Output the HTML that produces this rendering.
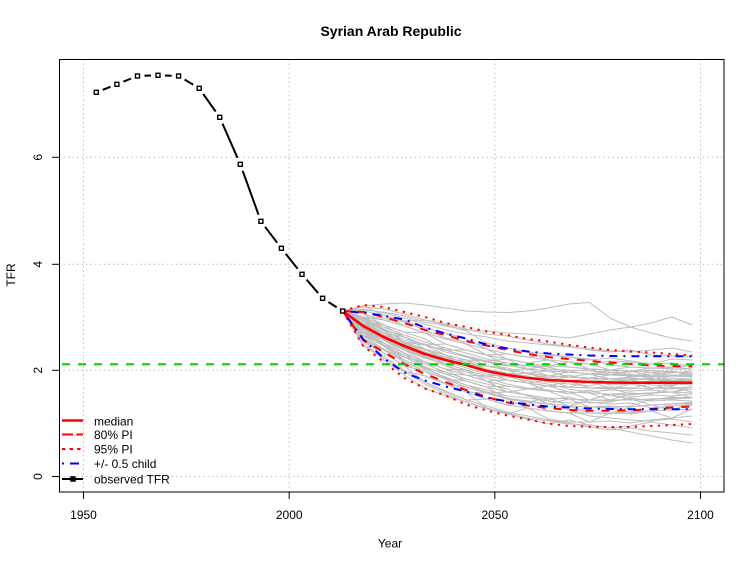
<!DOCTYPE html>
<html>
<head>
<meta charset="utf-8">
<style>
  html,body{margin:0;padding:0;background:#fff;}
  svg{display:block;}
  text{font-family:"Liberation Sans", Arial, sans-serif; fill:#000;}
  #traj polyline{vector-effect:non-scaling-stroke;}
</style>
</head>
<body>
<svg width="755" height="566" viewBox="0 0 755 566">
  <rect x="0" y="0" width="755" height="566" fill="#fff"/>
  <defs>
    <clipPath id="plotclip"><rect x="59" y="59" width="665" height="433"/></clipPath>
    <mask id="obsmask" maskUnits="userSpaceOnUse" x="0" y="0" width="755" height="566">
      <rect x="0" y="0" width="755" height="566" fill="#fff"/>
      <g fill="#000">
        <circle cx="96.3" cy="92.3" r="7"/>
        <circle cx="116.9" cy="84.3" r="7"/>
        <circle cx="137.5" cy="76" r="7"/>
        <circle cx="158" cy="75.3" r="7"/>
        <circle cx="178.6" cy="76" r="7"/>
        <circle cx="199.2" cy="88.3" r="7"/>
        <circle cx="219.7" cy="117.3" r="7"/>
        <circle cx="240.3" cy="164.3" r="7"/>
        <circle cx="260.9" cy="221.3" r="7"/>
        <circle cx="281.4" cy="248.3" r="7"/>
        <circle cx="302" cy="274.3" r="7"/>
        <circle cx="322.6" cy="298.3" r="7"/>
        <circle cx="342.6" cy="311" r="7"/>
      </g>
    </mask>
  </defs>

  <g stroke="#bebebe" stroke-width="1" stroke-dasharray="1.5,3" fill="none">
    <line x1="83.5" y1="59" x2="83.5" y2="492"/>
    <line x1="289.2" y1="59" x2="289.2" y2="492"/>
    <line x1="494.8" y1="59" x2="494.8" y2="492"/>
    <line x1="700.5" y1="59" x2="700.5" y2="492"/>
    <line x1="59" y1="476.5" x2="724" y2="476.5"/>
    <line x1="59" y1="370.3" x2="724" y2="370.3"/>
    <line x1="59" y1="264.3" x2="724" y2="264.3"/>
    <line x1="59" y1="157.3" x2="724" y2="157.3"/>
  </g>

  <g id="traj" transform="matrix(20.5706,0,0,1,342.6,0)" stroke="#bebebe" stroke-width="1" fill="none" stroke-linejoin="round">
    <polyline points="0,311 1,326 2,337 3,350 4,358 5,360 6,365 7,366 8,370 9,378 10,380 11,387 12,388 13,389 14,384 15,382 16,384 17,385"/>
    <polyline points="0,311 1,323 2,333 3,337 4,345 5,355 6,360 7,371 8,375 9,373 10,376 11,372 12,374 13,379 14,378 15,380 16,376 17,377"/>
    <polyline points="0,311 1,329 2,343 3,353 4,367 5,374 6,375 7,381 8,380 9,383 10,391 11,392 12,400 13,400 14,394 15,393 16,392 17,398"/>
    <polyline points="0,311 1,321 2,325 3,332 4,339 5,350 6,356 7,361 8,359 9,363 10,366 11,362 12,364 13,370 14,371 15,372 16,372 17,373"/>
    <polyline points="0,311 1,332 2,343 3,357 4,367 5,379 6,387 7,393 8,392 9,395 10,398 11,406 12,407 13,408 14,406 15,399 16,398 17,397"/>
    <polyline points="0,311 1,317 2,320 3,326 4,333 5,333 6,339 7,349 8,354 9,357 10,355 11,357 12,359 13,365 14,367 15,368 16,368 17,365"/>
    <polyline points="0,311 1,335 2,346 3,362 4,371 5,379 6,392 7,399 8,405 9,402 10,404 11,406 12,413 13,413 14,414 15,411 16,418 17,409"/>
    <polyline points="0,311 1,326 2,333 3,342 4,345 5,350 6,350 7,355 8,359 9,369 10,371 11,377 12,378 13,375 14,375 15,376 16,380 17,381"/>
    <polyline points="0,311 1,323 2,337 3,346 4,358 5,364 6,370 7,381 8,386 9,389 10,386 11,387 12,382 13,383 14,384 15,388 16,389 17,387"/>
    <polyline points="0,311 1,314 2,320 3,321 4,328 5,333 6,344 7,349 8,359 9,363 10,360 11,362 12,364 13,361 14,362 15,364 16,359 17,360"/>
    <polyline points="0,311 1,338 2,350 3,362 4,376 5,384 6,392 7,408 8,414 9,408 10,411 11,413 12,422 13,421 14,423 15,420 16,418 17,416"/>
    <polyline points="0,311 1,329 2,340 3,346 4,354 5,364 6,375 7,381 8,392 9,395 10,404 11,406 12,400 13,401 14,399 15,405 16,404 17,403"/>
    <polyline points="0,311 1,321 2,329 3,342 4,349 5,355 6,365 7,371 8,375 9,383 10,386 11,381 12,382 13,379 14,380 15,378 16,384 17,383"/>
    <polyline points="0,311 1,332 2,346 3,357 4,362 5,369 6,370 7,376 8,375 9,378 10,376 11,377 12,378 13,383 14,382 15,388 16,387 17,392"/>
    <polyline points="0,311 1,311 2,315 3,321 4,320 5,325 6,331 7,343 8,348 9,352 10,360 11,362 12,369 13,370 14,371 15,368 16,369 17,369"/>
    <polyline points="0,311 1,341 2,353 3,366 4,382 5,391 6,400 7,399 8,405 9,408 10,419 11,422 12,422 13,413 14,412 15,411 16,410 17,403"/>
    <polyline points="0,311 1,326 2,340 3,350 4,362 5,369 6,381 7,387 8,399 9,402 10,404 11,399 12,400 13,394 14,395 15,393 16,392 17,393"/>
    <polyline points="0,311 1,323 2,329 3,337 4,349 5,360 6,365 7,366 8,370 9,369 10,371 11,372 12,369 13,370 14,375 15,377 16,376 17,373"/>
    <polyline points="0,311 1,317 2,325 3,337 4,345 5,344 6,350 7,355 8,365 9,369 10,376 11,377 12,374 13,375 14,374 15,379 16,381 17,380"/>
    <polyline points="0,311 1,335 2,343 3,353 4,362 5,374 6,381 7,387 8,399 9,408 10,411 11,413 12,407 13,407 14,413 15,411 16,404 17,402"/>
    <polyline points="0,311 1,329 2,337 3,346 4,349 5,355 6,360 7,361 8,365 9,369 10,366 11,367 12,369 13,375 14,376 15,372 16,371 17,376"/>
    <polyline points="0,311 1,326 2,337 3,346 4,354 5,364 6,370 7,376 8,375 9,378 10,380 11,381 12,388 13,387 14,388 15,389 16,383 17,384"/>
    <polyline points="0,311 1,338 2,353 3,366 4,371 5,379 6,381 7,387 8,392 9,389 10,391 11,392 12,393 13,400 14,400 15,399 16,399 17,398"/>
    <polyline points="0,311 1,314 2,325 3,332 4,333 5,339 6,344 7,355 8,359 9,363 10,371 11,372 12,374 13,370 14,367 15,368 16,367 17,369"/>
    <polyline points="0,311 1,332 2,340 3,350 4,358 5,360 6,365 7,371 8,380 9,383 10,386 11,392 12,393 13,394 14,400 15,400 16,397 17,398"/>
    <polyline points="0,311 1,321 2,333 3,342 4,354 5,360 6,360 7,366 8,370 9,373 10,380 11,381 12,382 13,388 14,389 15,383 16,385 17,382"/>
    <polyline points="0,311 1,346 2,358 3,371 4,376 5,384 6,387 7,393 8,399 9,402 10,398 11,399 12,407 13,406 14,407 15,405 16,410 17,409"/>
    <polyline points="0,311 1,323 2,333 3,342 4,345 5,350 6,356 7,361 8,370 9,373 10,376 11,377 12,378 13,379 14,377 15,376 16,375 17,376"/>
    <polyline points="0,311 1,329 2,340 3,353 4,362 5,369 6,375 7,376 8,380 9,383 10,386 11,387 12,388 13,388 14,394 15,393 16,392 17,387"/>
    <polyline points="0,311 1,326 2,333 3,346 4,349 5,355 6,365 7,371 8,375 9,378 10,380 11,377 12,378 13,383 14,384 15,383 16,380 17,379"/>
    <polyline points="0,311 1,317 2,329 3,337 4,345 5,350 6,356 7,366 8,370 9,373 10,371 11,372 12,374 13,375 14,371 15,372 16,376 17,375"/>
    <polyline points="0,311 1,335 2,350 3,357 4,367 5,374 6,381 7,387 8,386 9,389 10,391 11,399 12,400 13,394 14,393 15,394 16,388 17,387"/>
    <polyline points="0,311 1,306 2,315 3,326 4,333 5,344 6,350 7,355 8,354 9,357 10,360 11,367 12,369 13,370 14,371 15,376 16,372 17,373"/>
    <polyline points="0,311 1,341 2,350 3,362 4,371 5,384 6,392 7,393 8,399 9,402 10,411 11,413 12,413 13,414 14,407 15,405 16,404 17,404"/>
    <polyline points="0,311 1,329 2,340 3,350 4,358 5,364 6,365 7,371 8,375 9,378 10,380 11,381 12,382 13,384 14,379 15,379 16,380 17,383"/>
    <polyline points="0,311 1,323 2,337 3,350 4,358 5,360 6,365 7,371 8,380 9,383 10,380 11,381 12,378 13,379 14,380 15,379 16,383 17,382"/>
    <polyline points="0,311 1,320 2,331 3,344 4,352 5,358 6,362 7,369 8,373 9,376 10,382 11,384 12,386 13,381 14,380 15,385 16,386 17,381"/>
    <polyline points="0,311 1,328 2,339 3,348 4,356 5,366 6,372 7,378 8,384 9,388 10,390 11,394 12,390 13,396 14,397 15,395 16,396 17,394"/>
    <polyline points="0,311 1,324 2,335 3,343 4,350 5,357 6,363 7,366 8,368 9,374 10,378 11,375 12,380 13,385 14,384 15,381 16,378 17,379"/>
    <polyline points="0,311 1,333 2,345 3,355 4,364 5,372 6,379 7,384 8,389 9,396 10,400 11,397 12,403 13,402 14,398 15,401 16,400 17,401"/>
    <polyline points="0,311 1,319 2,327 3,335 4,342 5,348 6,353 7,359 8,363 9,366 10,369 11,370 12,371 13,372 14,377 15,374 16,373 17,371"/>
    <polyline points="0,311 1,327 2,336 3,349 4,357 5,361 6,368 7,374 8,377 9,381 10,384 11,389 12,392 13,390 14,391 15,390 16,392 17,389"/>
    <polyline points="0,311 1,336 2,349 3,360 4,369 5,377 6,385 7,390 8,396 9,398 10,401 11,403 12,402 13,404 14,403 15,408 16,406 17,405"/>
    <polyline points="0,311 1,318 2,330 3,340 4,344 5,352 6,357 7,362 8,366 9,365 10,367 11,372 12,374 13,373 14,372 15,370 16,372 17,374"/>
    <polyline points="0,311 1,306 2,304 3,303 4,305 5,308 6,311 7,312 8,312.5 9,311 10,308 11,304 12,302.5 13,318 14,327 15,333 16,338 17,341"/>
    <polyline points="0,311 1,310 2,312 3,316 4,322 5,326 6,330 7,331 8,333 9,334 10,336 11,338 12,334 13,330 14,327 15,323 16,317 17,325"/>
    <polyline points="0,311 1,342 2,360 3,375 4,388 5,396 6,402 7,408 8,413 9,418 10,421 11,424 12,425 13,428 14,432 15,436 16,440 17,443"/>
    <polyline points="0,311 1,340 2,356 3,370 4,382 5,392 6,400 7,406 8,412 9,416 10,420 11,423 12,427 13,430 14,428 15,431 16,433 17,435"/>
    <polyline points="0,311 1,309 2,313 3,318 4,324 5,330 6,334 7,337 8,341 9,343 10,345 11,347 12,349 13,351 14,352 15,350 16,348 17,352"/>
    <polyline points="0,311 1,345 2,358 3,372 4,384 5,394 6,402 7,409 8,414 9,419 10,424 11,420 12,425 13,428 14,426 15,422 16,425 17,428"/>
    <polyline points="0,311 1,307 2,309 3,314 4,320 5,324 6,329 7,334 8,336 9,340 10,344 11,346 12,350 13,352 14,350 15,355 16,356 17,357"/>
    <polyline points="0,311 1,330 2,345 3,360 4,368 5,378 6,385 7,392 8,398 9,401 10,404 11,410 12,416 13,418 14,420 15,421 16,419 17,422"/>
    <polyline points="0,311 1,318 2,318 3,322 4,330 5,338 6,342 7,346 8,348 9,352 10,354 11,357 12,360 13,358 14,361 15,364 16,363 17,366"/>
  </g>

  <g fill="none" stroke-linejoin="round" clip-path="url(#plotclip)">
    <polyline stroke="#ff0000" stroke-width="2" stroke-dasharray="2.3,5.4"
      points="342.6,311 363.2,305 383.7,307 404.3,312 424.9,317 445.4,323 466,327 486.6,331.5 507.2,335 527.7,339 548.3,341.5 568.9,345 589.4,347.5 610,350 630.6,351.5 651.1,352.5 671.7,354 692.3,355.5"/>
    <polyline stroke="#ff0000" stroke-width="2" stroke-dasharray="2.3,5.4"
      points="342.6,311 363.2,346 383.7,362 404.3,378 424.9,388.5 445.4,395.5 466,404.5 486.6,410.5 507.2,415.5 527.7,419.5 548.3,423.5 568.9,426 589.4,426.7 610,427 630.6,427 651.1,426 671.7,425 692.3,424"/>
    <polyline stroke="#ff0000" stroke-width="2" stroke-dasharray="8,8"
      points="342.6,311 363.2,312 383.7,317 404.3,323 424.9,330 445.4,335 466,341 486.6,345.5 507.2,350 527.7,354 548.3,357 568.9,359 589.4,361 610,362.5 630.6,364 651.1,365.5 671.7,366 692.3,366.5"/>
    <polyline stroke="#ff0000" stroke-width="2" stroke-dasharray="8,8"
      points="342.6,311 363.2,340 383.7,352 404.3,364 424.9,374 445.4,382 466,390 486.6,397 507.2,402.5 527.7,405.5 548.3,408 568.9,410 589.4,410.7 610,410.7 630.6,410.5 651.1,409 671.7,407.5 692.3,406.5"/>
    <polyline stroke="#0000ff" stroke-width="2" stroke-dasharray="2,6,8,6"
      points="342.6,311 363.2,312.7 383.7,315.8 404.3,319.5 424.9,327.5 445.4,333.5 466,338.5 486.6,344.5 507.2,348.5 527.7,351.5 548.3,353.5 568.9,354.5 589.4,355.5 610,356 630.6,356.2 651.1,356.2 671.7,356.2 692.3,356.2"/>
    <polyline stroke="#0000ff" stroke-width="2" stroke-dasharray="2,6,8,6"
      points="342.6,311 363.2,339.3 383.7,358.2 404.3,372.5 424.9,380.5 445.4,386.5 466,391.5 486.6,397.5 507.2,401.5 527.7,404.5 548.3,406.5 568.9,407.5 589.4,408.5 610,409 630.6,409.2 651.1,409.2 671.7,409.2 692.3,409.2"/>
    <polyline stroke="#ff0000" stroke-width="2.6"
      points="342.6,311 363.2,326 383.7,337 404.3,346 424.9,354 445.4,360 466,365 486.6,371 507.2,375 527.7,378 548.3,380 568.9,381 589.4,382 610,382.5 630.6,382.7 651.1,382.7 671.7,382.7 692.3,382.7"/>
    <line x1="59" y1="364.3" x2="724" y2="364.3" stroke="#00cd00" stroke-width="2" stroke-dasharray="8,8" stroke-dashoffset="-3"/>
  </g>

  <polyline fill="none" stroke="#000" stroke-width="2" mask="url(#obsmask)"
    points="96.3,92.3 116.9,84.3 137.5,76 158,75.3 178.6,76 199.2,88.3 219.7,117.3 240.3,164.3 260.9,221.3 281.4,248.3 302,274.3 322.6,298.3 342.6,311"/>
  <g fill="#fff" stroke="#000" stroke-width="1.4">
    <rect x="94.3" y="90.3" width="4" height="4"/>
    <rect x="114.9" y="82.3" width="4" height="4"/>
    <rect x="135.5" y="74" width="4" height="4"/>
    <rect x="156" y="73.3" width="4" height="4"/>
    <rect x="176.6" y="74" width="4" height="4"/>
    <rect x="197.2" y="86.3" width="4" height="4"/>
    <rect x="217.7" y="115.3" width="4" height="4"/>
    <rect x="238.3" y="162.3" width="4" height="4"/>
    <rect x="258.9" y="219.3" width="4" height="4"/>
    <rect x="279.4" y="246.3" width="4" height="4"/>
    <rect x="300" y="272.3" width="4" height="4"/>
    <rect x="320.6" y="296.3" width="4" height="4"/>
    <rect x="340.6" y="309" width="4" height="4"/>
  </g>

  <rect x="59.5" y="59.5" width="664.5" height="432.5" fill="none" stroke="#000" stroke-width="1"/>

  <g stroke="#000" stroke-width="1">
    <line x1="83.5" y1="492" x2="83.5" y2="499"/>
    <line x1="289.2" y1="492" x2="289.2" y2="499"/>
    <line x1="494.8" y1="492" x2="494.8" y2="499"/>
    <line x1="700.5" y1="492" x2="700.5" y2="499"/>
    <line x1="52" y1="476.5" x2="59" y2="476.5"/>
    <line x1="52" y1="370.3" x2="59" y2="370.3"/>
    <line x1="52" y1="264.3" x2="59" y2="264.3"/>
    <line x1="52" y1="157.3" x2="59" y2="157.3"/>
  </g>
  <g font-size="12" text-anchor="middle">
    <text x="83.5" y="519">1950</text>
    <text x="289.2" y="519">2000</text>
    <text x="494.8" y="519">2050</text>
    <text x="700.5" y="519">2100</text>
    <text x="42" y="476.5" transform="rotate(-90 42 476.5)">0</text>
    <text x="42" y="370.3" transform="rotate(-90 42 370.3)">2</text>
    <text x="42" y="264.3" transform="rotate(-90 42 264.3)">4</text>
    <text x="42" y="157.3" transform="rotate(-90 42 157.3)">6</text>
    <text x="390" y="547.5">Year</text>
    <text x="15" y="275" transform="rotate(-90 15 275)">TFR</text>
  </g>
  <text x="391" y="36" font-size="14" font-weight="bold" text-anchor="middle">Syrian Arab Republic</text>

  <g fill="none">
    <line x1="62" y1="420.5" x2="83" y2="420.5" stroke="#ff0000" stroke-width="2.6"/>
    <line x1="62" y1="434.5" x2="83" y2="434.5" stroke="#ff0000" stroke-width="2" stroke-dasharray="11,3.5"/>
    <line x1="62" y1="449" x2="83" y2="449" stroke="#ff0000" stroke-width="2" stroke-dasharray="3.3,4.3"/>
    <line x1="62" y1="463.5" x2="83" y2="463.5" stroke="#0000ff" stroke-width="2" stroke-dasharray="2,6,9,6"/>
    <line x1="62" y1="479" x2="83" y2="479" stroke="#000" stroke-width="2"/>
    <rect x="71" y="477" width="4" height="4" fill="#000" stroke="#000" stroke-width="1.5"/>
  </g>
  <g font-size="12">
    <text x="94" y="425.5">median</text>
    <text x="94" y="439">80% PI</text>
    <text x="94" y="453.5">95% PI</text>
    <text x="94" y="468">+/- 0.5 child</text>
    <text x="94" y="483.5">observed TFR</text>
  </g>
</svg>
</body>
</html>
